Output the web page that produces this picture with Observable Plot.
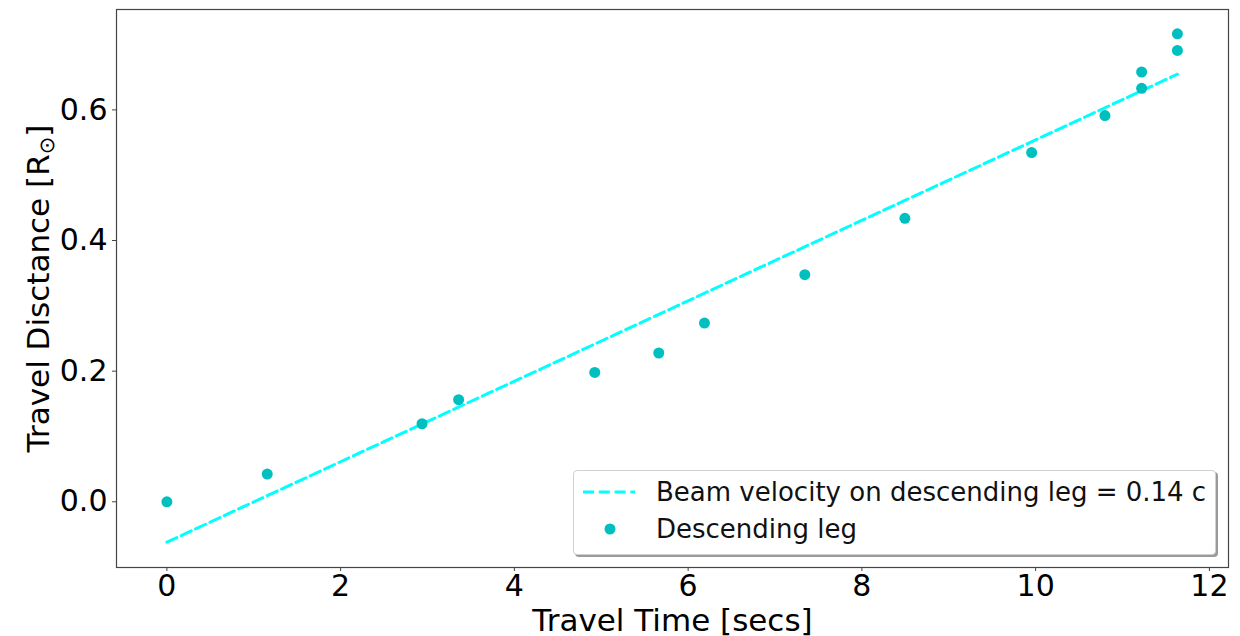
<!DOCTYPE html>
<html>
<head>
<meta charset="utf-8">
<script src="https://cdn.jsdelivr.net/npm/d3@7"></script>
<script src="https://cdn.jsdelivr.net/npm/@observablehq/plot@0.6"></script>
<style>
  html, body { margin: 0; padding: 0; background: #fff; }
  #wrap { position: relative; width: 1240px; height: 636px; font-family: "DejaVu Sans", sans-serif; }
  #legend {
    position: absolute; left: 573px; top: 470px; width: 641px; height: 83px;
    border: 1px solid #d0d0d0; border-radius: 4px; background: #fff;
    box-shadow: 2px 2px 0 #9a9a9a;
    font-size: 26px; color: #111;
  }
  .row { position: absolute; left: 0; display: flex; align-items: center; height: 32px; }
  .row svg { display: block; margin-left: 9px; }
  .row span { margin-left: 21px; white-space: nowrap; }
</style>
</head>
<body>
<div id="wrap"></div>
<script>
// Descending leg: travel time (s) and travel distance (solar radii)
const travelTime = [0, 1.155, 2.937, 3.358, 4.925, 5.662, 6.188, 7.343, 8.495, 9.954, 10.798, 11.22, 11.22, 11.632, 11.632];
const travelDistance = [0, 0.0424, 0.1195, 0.1563, 0.198, 0.2278, 0.2737, 0.3477, 0.434, 0.5346, 0.5913, 0.633, 0.658, 0.691, 0.7165];

// Linear fit for the beam velocity (endpoints of the fitted segment)
const fitTime = [0, 11.632];
const fitDistance = [-0.0618, 0.6546];

const xTicks = [0, 2, 4, 6, 8, 10, 12];
const yTicks = [0.0, 0.2, 0.4, 0.6];

const fitLabel = "Beam velocity on descending leg = 0.14 c";
const dotLabel = "Descending leg";
const xLabel = "Travel Time [secs]";
const yLabelMain = "Travel Disctance [R";
const yLabelSub = "\u2299";
const yLabelEnd = "]";

const dotColor = "#00bfbf";
const lineColor = "#00ffff";

const points = travelTime.map((t, i) => ({t, d: travelDistance[i]}));
const fit = fitTime.map((t, i) => ({t, d: fitDistance[i]}));

const chart = Plot.plot({
  width: 1240,
  height: 636,
  marginLeft: 116,
  marginRight: 12,
  marginTop: 9,
  marginBottom: 69,
  style: {fontFamily: "DejaVu Sans, sans-serif", background: "#fff", color: "#000"},
  x: {domain: [-0.58, 12.22]},
  y: {domain: [-0.1006, 0.7537]},
  marks: [
    Plot.line(fit, {x: "t", y: "d", stroke: lineColor, strokeWidth: 3, strokeDasharray: "11,4.8"}),
    Plot.dot(points, {x: "t", y: "d", r: 5.5, fill: dotColor, stroke: "none"}),
    Plot.frame({stroke: "#444", strokeWidth: 1.2}),
    Plot.axisX({ticks: xTicks, tickSize: 4, tickPadding: 3, fontSize: 30, label: null, stroke: "#444", tickFormat: d3.format("d")}),
    Plot.axisY({ticks: yTicks, tickSize: 4, tickPadding: 5, fontSize: 30, label: null, stroke: "#444", tickFormat: d3.format(".1f")}),
    Plot.text([xLabel], {frameAnchor: "bottom", text: d => d, dy: 63, lineAnchor: "bottom", textAnchor: "middle", fontSize: 31, fill: "#000"}),
    Plot.text([yLabelMain + yLabelSub + yLabelEnd], {frameAnchor: "left", text: d => d, dx: -68, rotate: -90, lineAnchor: "bottom", textAnchor: "middle", fontSize: 31, fill: "#000", className: "ylabel"})
  ]
});

// Set the solar symbol as a subscript in the y-axis title
const ylab = chart.querySelector(".ylabel text");
if (ylab) {
  const ns = "http://www.w3.org/2000/svg";
  ylab.textContent = "";
  const a = document.createElementNS(ns, "tspan");
  a.textContent = yLabelMain;
  const s = document.createElementNS(ns, "tspan");
  s.textContent = yLabelSub;
  s.setAttribute("font-size", "21");
  s.setAttribute("dy", "5");
  const e = document.createElementNS(ns, "tspan");
  e.textContent = yLabelEnd;
  e.setAttribute("dy", "-5");
  ylab.append(a, s, e);
}

const wrap = document.getElementById("wrap");
wrap.appendChild(chart);

// Legend box placed inside the lower right of the plot area
const legend = document.createElement("div");
legend.id = "legend";
legend.innerHTML = `
  <div class="row" style="top:5px">
    <svg width="52" height="10"><line x1="0" y1="5" x2="52" y2="5" stroke="${lineColor}" stroke-width="3" stroke-dasharray="11,4.8"/></svg>
    <span>${fitLabel}</span>
  </div>
  <div class="row" style="top:42px">
    <svg width="52" height="12"><circle cx="27" cy="6" r="5.5" fill="${dotColor}"/></svg>
    <span>${dotLabel}</span>
  </div>`;
wrap.appendChild(legend);
</script>
</body>
</html>
